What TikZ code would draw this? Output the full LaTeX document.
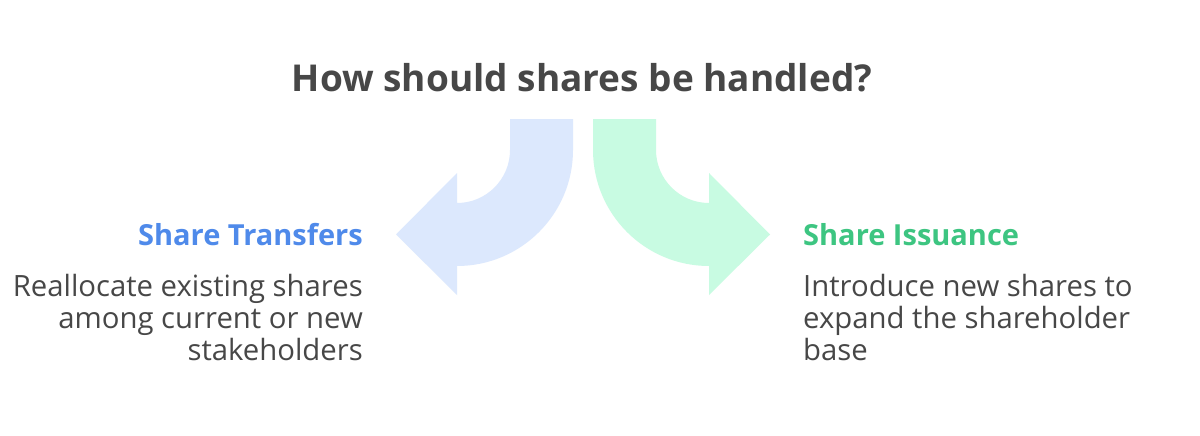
\documentclass[tikz,border=0pt]{standalone}
\usepackage{fontspec}
\setmainfont{Open Sans}
\usetikzlibrary{calc}

\definecolor{inkgray}{HTML}{474747}
\definecolor{leftblue}{HTML}{4F8AEA}
\definecolor{leftfill}{HTML}{DCE8FD}
\definecolor{rightgreen}{HTML}{3DC581}
\definecolor{rightfill}{HTML}{C8FBE2}

\begin{document}
\begin{tikzpicture}[x=1pt, y=-1pt,
    heading/.style={inner sep=0pt, font=\fontsize{29}{32}\selectfont\bfseries},
    body/.style={inner sep=0pt, text=inkgray, font=\fontsize{29.3}{32}\selectfont}]

    % === Canvas ===
    \fill[white] (0,0) rectangle (1200,436);
    \useasboundingbox (0,0) rectangle (1200,436);

    % === Title ===
    \node[inner sep=0pt, anchor=base, text=inkgray, font=\fontsize{37}{40}\selectfont\bfseries]
      (title) at (582,92) {How should shares be handled?};

    % === Left branch (blue) ===
    \begin{scope}
      \coordinate (LC) at (457,150);
      \fill[leftfill] (573,119) -- (573,150) arc (0:90:116) -- (457,295) -- (396,234.5)
        -- (457,173) -- (457,203) arc (90:0:53) -- (510,119) -- cycle;

      % Label
      \node[heading, text=leftblue, anchor=base east] (transfers) at (363,245) {Share Transfers};
      \node[body, align=right, anchor=base east] (transfersText) at (363,360)
        {Reallocate existing shares\\among current or new\\stakeholders};
    \end{scope}

    % === Right branch (green) ===
    \begin{scope}
      \coordinate (RC) at (709,150);
      \fill[rightfill] (593,119) -- (593,150) arc (180:90:116) -- (709,295) -- (770,234.5)
        -- (709,173) -- (709,203) arc (90:180:53) -- (656,119) -- cycle;

      % Label
      \node[heading, text=rightgreen, anchor=base west] (issuance) at (803,245) {Share Issuance};
      \node[body, align=left, anchor=base west] (issuanceText) at (803,360)
        {Introduce new shares to\\expand the shareholder\\base};
    \end{scope}

\end{tikzpicture}
\end{document}
